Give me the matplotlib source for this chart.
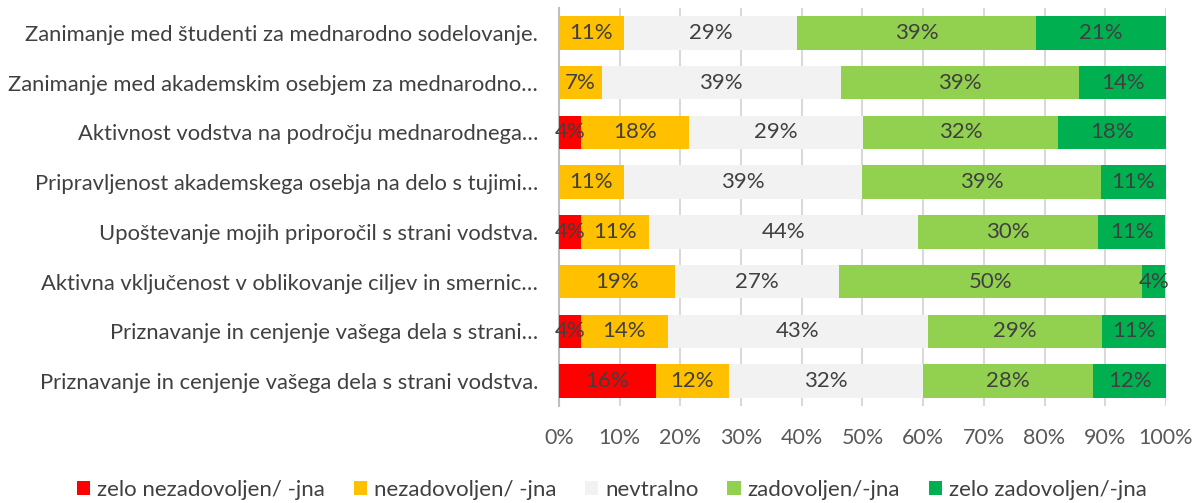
import numpy as np
import matplotlib; matplotlib.use("Agg")
import matplotlib.pyplot as plt

# ── Data (percent of respondents) ───────────────────────────────
categories = [
    "Zanimanje med študenti za mednarodno sodelovanje.",
    "Zanimanje med akademskim osebjem za mednarodno…",
    "Aktivnost vodstva na področju mednarodnega…",
    "Pripravljenost akademskega osebja na delo s tujimi…",
    "Upoštevanje mojih priporočil s strani vodstva.",
    "Aktivna vključenost v oblikovanje ciljev in smernic…",
    "Priznavanje in cenjenje vašega dela s strani…",
    "Priznavanje in cenjenje vašega dela s strani vodstva.",
]
zelo_nezad = [0.0, 0.0, 3.6, 0.0, 3.7, 0.0, 3.6, 16.0]
nezad      = [10.7, 7.1, 17.9, 10.7, 11.1, 19.2, 14.3, 12.0]
nevtralno  = [28.6, 39.3, 28.6, 39.3, 44.4, 26.9, 42.9, 32.0]
zadov      = [39.3, 39.3, 32.1, 39.3, 29.6, 50.0, 28.6, 28.0]
zelo_zadov = [21.4, 14.3, 17.9, 10.7, 11.1, 3.8, 10.7, 12.0]

series = [zelo_nezad, nezad, nevtralno, zadov, zelo_zadov]
series_names = ["zelo nezadovoljen/ -jna", "nezadovoljen/ -jna", "nevtralno",
                "zadovoljen/-jna", "zelo zadovoljen/-jna"]
colors = ["#FF0000", "#FFC000", "#F2F2F2", "#92D050", "#00B050"]
xticks = [0, 10, 20, 30, 40, 50, 60, 70, 80, 90, 100]

plt.rcParams["font.family"] = ["Lato", "DejaVu Sans"]

fig = plt.figure(figsize=(12.02, 5.03), dpi=100)
ax = fig.add_axes([0.465, 0.193, 0.505, 0.791])

y = np.arange(len(categories))
left = np.zeros(len(categories))
handles = []
for vals, name, c in zip(series, series_names, colors):
    vals = np.array(vals)
    h = ax.barh(y, vals, left=left, height=0.675, color=c, label=name, zorder=3)
    handles.append(h)
    for yi, (l, v) in enumerate(zip(left, vals)):
        if v > 0:
            ax.text(l + v / 2, yi, f"{v:.0f}%", ha="center", va="center",
                    fontsize=16, color="#404040", zorder=4)
    left += vals

ax.set_xlim(0, 100)
ax.set_ylim(len(categories) - 0.5, -0.5)
ax.set_yticks(y)
ax.set_yticklabels(categories, fontsize=15.8, color="#404040")
ax.set_xticks(xticks)
ax.set_xticklabels([f"{t}%" for t in xticks], fontsize=15.5, color="#595959")
ax.tick_params(axis="y", length=0, pad=15)
ax.tick_params(axis="x", length=0, pad=16)
ax.grid(axis="x", color="#D9D9D9", lw=1.5, zorder=0)
for s in ["top", "right", "bottom"]:
    ax.spines[s].set_visible(False)
ax.spines["left"].set_color("#BFBFBF")
ax.spines["left"].set_linewidth(1.5)

fig.legend(handles=handles, labels=series_names, loc="center",
           bbox_to_anchor=(0.509, 1 - 490 / 503), ncol=5, frameon=False, fontsize=16,
           handlelength=0.6, handleheight=0.6, handletextpad=0.3,
           columnspacing=1.3, labelcolor="#404040")

fig.savefig("out.png", dpi=100)
